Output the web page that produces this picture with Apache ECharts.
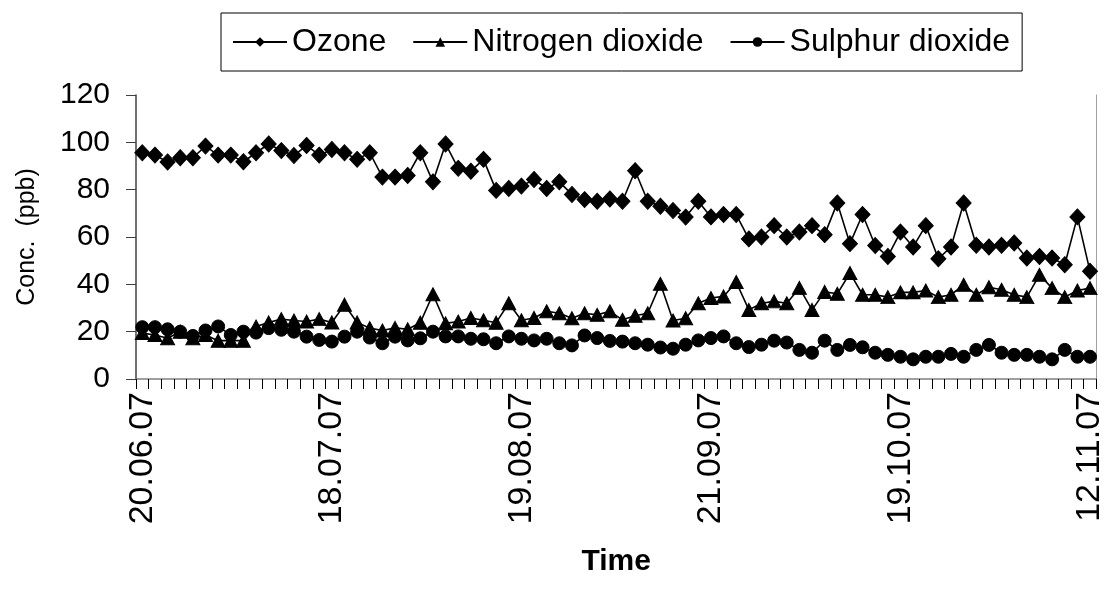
<!DOCTYPE html>
<html>
<head>
<meta charset="utf-8">
<script src="https://cdn.jsdelivr.net/npm/echarts@6/dist/echarts.min.js"></script>
<style>
html,body{margin:0;padding:0;background:#fff;}
#chart{width:1107px;height:595px;}
</style>
</head>
<body>
<div id="chart"></div>
<script>
const seriesNames = ['Ozone', 'Nitrogen dioxide', 'Sulphur dioxide'];
const tickLabels = ['20.06.07', '18.07.07', '19.08.07', '21.09.07', '19.10.07', '12.11.07'];
const labelStep = 15;
const yTicks = [0, 20, 40, 60, 80, 100, 120];

const ozone = [95.6, 94.6, 91.7, 93.5, 93.5, 98.4, 94.6, 94.6, 91.8, 95.6,
  99.3, 96.5, 94.4, 98.7, 94.6, 97, 95.6, 92.8, 95.6, 85.3,
  85.3, 86, 95.6, 83.3, 99.3, 89, 87.8, 92.8, 79.7, 80.5,
  81.5, 84.3, 80.5, 83.3, 78, 75.8, 75.1, 76.1, 75.1, 88,
  75.1, 73, 71.2, 68.4, 75.1, 68.5, 69.5, 69.5, 59.2, 60,
  64.8, 60, 62.1, 64.8, 61, 74.4, 57.2, 69.5, 56.4, 51.8,
  62.1, 55.8, 64.8, 50.8, 55.8, 74.4, 56.5, 55.8, 56.5, 57.5,
  51.1, 51.8, 51.1, 48.3, 68.5, 45.5];

const no2 = [19.4, 18.6, 17.2, 20, 17.2, 18.6, 16.2, 16.2, 16.2, 22.2,
  23.9, 25.3, 24.7, 24.3, 25.3, 23.9, 31.4, 23.9, 21.5, 20.5,
  21.6, 21, 23.8, 35.8, 23.5, 24.3, 25.8, 24.8, 23.8, 32,
  24.8, 25.8, 28.6, 27.8, 25.7, 27.8, 27.1, 28.6, 25, 26.7,
  27.8, 40.2, 24.7, 25.7, 32, 34.2, 34.9, 41, 29.2, 32,
  32.8, 32, 38.5, 29.2, 36.8, 36, 44.8, 35.6, 35.6, 34.6,
  36.6, 36.6, 37.4, 34.6, 35.6, 39.8, 35.6, 38.8, 37.7, 35.6,
  34.6, 44, 38.4, 34.6, 37.4, 38.4];

const so2 = [21.9, 21.9, 21, 20, 18.2, 20.5, 22.2, 18.6, 20, 19.6,
  21.5, 20.8, 20, 17.9, 16.5, 15.8, 17.9, 20, 17.5, 15.1,
  17.9, 16.3, 17.2, 20, 18, 18, 17, 16.8, 15.1, 18,
  17, 16.3, 17, 15.1, 14.2, 18.4, 17.3, 16.1, 15.8, 15.1,
  14.5, 13.3, 12.8, 14.5, 16.3, 17.3, 18, 15.1, 13.5, 14.5,
  16.2, 15.4, 12.3, 11.1, 16.2, 12.3, 14.4, 13.4, 11.1, 10.2,
  9.4, 8.3, 9.4, 9.4, 10.6, 9.4, 12.3, 14.4, 11.1, 10.2,
  10.2, 9.4, 8.3, 12.3, 9.4, 9.4];

const categories = ozone.map((_, i) => (i % labelStep === 0 ? tickLabels[i / labelStep] : '#' + i));

const font = 'Liberation Sans, Arial, sans-serif';
const chart = echarts.init(document.getElementById('chart'), null, { renderer: 'canvas' });

function lineSeries(name, data, symbol, size) {
  return {
    name: name,
    type: 'line',
    data: data,
    symbol: symbol,
    symbolSize: size,
    showAllSymbol: true,
    animation: false,
    lineStyle: { color: '#000', width: 1.6 },
    itemStyle: { color: '#000', borderColor: '#000' },
    emphasis: { disabled: true }
  };
}

chart.setOption({
  backgroundColor: '#fff',
  animation: false,
  textStyle: { fontFamily: font },
  legend: {
    data: seriesNames,
    left: 221,
    top: 13,
    padding: [13, 12, 13, 11],
    borderColor: '#000',
    borderWidth: 1,
    itemWidth: 54,
    itemHeight: 12,
    itemGap: 26,
    textStyle: { fontSize: 32, color: '#000', fontFamily: font, lineHeight: 30 }
  },
  grid: { left: 136, right: 8, top: 95, bottom: 216, containLabel: false },
  xAxis: {
    type: 'category',
    data: categories,
    boundaryGap: true,
    name: 'Time',
    nameLocation: 'middle',
    nameGap: 168,
    nameTextStyle: { fontSize: 30, fontWeight: 'bold', color: '#000', fontFamily: font },
    axisLine: { lineStyle: { color: '#808080', width: 1.5 } },
    axisTick: { show: true, interval: 0, length: 10, lineStyle: { color: '#000', width: 1 } },
    axisLabel: {
      interval: (i) => i % labelStep === 0,
      formatter: (v) => (v.charAt(0) === '#' ? '' : v),
      rotate: 90,
      margin: 13,
      fontSize: 34,
      color: '#000',
      fontFamily: font
    },
    splitLine: { show: false }
  },
  yAxis: [{
    type: 'value',
    min: yTicks[0],
    max: yTicks[yTicks.length - 1],
    interval: 20,
    name: 'Conc.  (ppb)',
    nameLocation: 'middle',
    nameGap: 96,
    nameTextStyle: { fontSize: 25, color: '#000', fontFamily: font },
    axisLine: { show: true, lineStyle: { color: '#404040', width: 1.5 } },
    axisTick: { show: true, length: 10, lineStyle: { color: '#404040' } },
    axisLabel: { fontSize: 30, color: '#000', margin: 26, fontFamily: font },
    splitLine: { show: false }
  }, {
    type: 'value',
    position: 'right',
    min: yTicks[0],
    max: yTicks[yTicks.length - 1],
    interval: 20,
    axisLine: { show: true, lineStyle: { color: '#a0a0a0', width: 1 } },
    axisTick: { show: false },
    axisLabel: { show: false },
    splitLine: { show: false }
  }],
  series: [
    lineSeries(seriesNames[0], ozone, 'diamond', [15, 16]),
    lineSeries(seriesNames[1], no2, 'triangle', [14, 13]),
    lineSeries(seriesNames[2], so2, 'circle', 13)
  ]
});
</script>
</body>
</html>
